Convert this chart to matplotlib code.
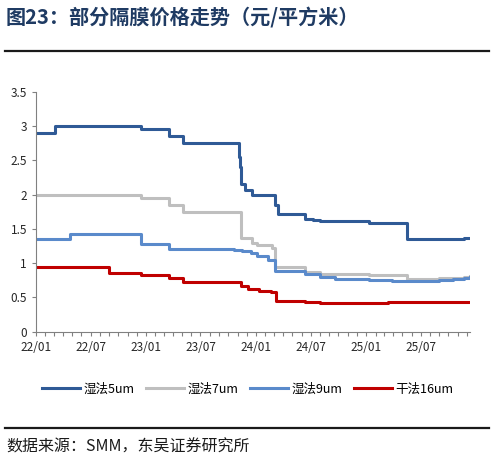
import matplotlib
matplotlib.use("Agg")
import matplotlib.pyplot as plt
import matplotlib.dates as mdates
import pandas as pd
from matplotlib.lines import Line2D

plt.rcParams['font.family'] = ['Noto Sans CJK SC', 'DejaVu Sans']

# 价格数据（元/平方米），按变动日期记录
wet5_dates = ['2022-01-01', '2022-03-04', '2022-12-15', '2023-03-18', '2023-05-04',
              '2023-11-06', '2023-11-09', '2023-11-12', '2023-11-27', '2023-12-18',
              '2024-03-06', '2024-03-13', '2024-06-12', '2024-07-10', '2024-08-01',
              '2024-09-20', '2025-01-10', '2025-05-15', '2025-11-21', '2025-12-01', '2025-12-12']
wet5_vals = [2.90, 3.00, 2.95, 2.85, 2.75,
             2.55, 2.40, 2.15, 2.06, 2.00,
             1.85, 1.72, 1.65, 1.63, 1.62,
             1.61, 1.59, 1.35, 1.36, 1.37, 1.37]

wet7_dates = ['2022-01-01', '2022-12-15', '2023-03-18', '2023-05-04', '2023-11-12',
              '2023-12-18', '2024-01-04', '2024-02-24', '2024-03-06', '2024-06-12',
              '2024-08-01', '2024-09-20', '2025-01-10', '2025-05-15', '2025-09-01',
              '2025-10-15', '2025-11-21', '2025-12-12']
wet7_vals = [2.00, 1.95, 1.85, 1.75, 1.36,
             1.30, 1.27, 1.22, 0.94, 0.87,
             0.845, 0.84, 0.82, 0.77, 0.78,
             0.79, 0.80, 0.81]

wet9_dates = ['2022-01-01', '2022-04-25', '2022-12-15', '2023-03-18', '2023-10-20',
              '2023-11-15', '2023-12-15', '2024-01-04', '2024-02-10', '2024-03-06',
              '2024-06-12', '2024-08-01', '2024-09-20', '2025-01-10', '2025-03-28',
              '2025-05-15', '2025-09-01', '2025-10-15', '2025-11-21', '2025-12-12']
wet9_vals = [1.35, 1.43, 1.28, 1.20, 1.19,
             1.18, 1.15, 1.10, 1.05, 0.89,
             0.835, 0.795, 0.77, 0.75, 0.745,
             0.735, 0.75, 0.77, 0.79, 0.80]

dry16_dates = ['2022-01-01', '2022-09-01', '2022-12-15', '2023-03-18', '2023-05-04',
               '2023-11-12', '2023-12-05', '2024-01-10', '2024-02-20', '2024-03-08',
               '2024-06-12', '2024-08-01', '2025-03-15', '2025-05-15', '2025-12-12']
dry16_vals = [0.95, 0.85, 0.83, 0.78, 0.73,
              0.66, 0.63, 0.60, 0.585, 0.45,
              0.44, 0.42, 0.43, 0.44, 0.44]

series = [
    ('湿法5um', wet5_dates, wet5_vals, '#2F5A96'),
    ('湿法7um', wet7_dates, wet7_vals, '#BFBFBF'),
    ('湿法9um', wet9_dates, wet9_vals, '#5A8ACB'),
    ('干法16um', dry16_dates, dry16_vals, '#C00000'),
]

fig = plt.figure(figsize=(4.95, 4.67), dpi=100)
ax = fig.add_axes([0.0727, 0.2897, 0.877, 0.5139])

for name, d, v, c in series:
    ax.plot(pd.to_datetime(d), v, drawstyle='steps-post', color=c, lw=2.2, label=name)

ax.set_ylim(0, 3.5)
ax.set_yticks([0, 0.5, 1, 1.5, 2, 2.5, 3, 3.5])
ax.set_yticklabels(['0', '0.5', '1', '1.5', '2', '2.5', '3', '3.5'])
ax.set_xlim(pd.Timestamp('2022-01-01'), pd.Timestamp('2025-12-12'))
ax.xaxis.set_major_locator(mdates.MonthLocator(bymonth=[1, 7]))
ax.xaxis.set_major_formatter(mdates.DateFormatter('%y/%m'))
ax.xaxis.set_minor_locator(mdates.MonthLocator())

for s in ['top', 'right']:
    ax.spines[s].set_visible(False)
for s in ['left', 'bottom']:
    ax.spines[s].set_color('#808080')
    ax.spines[s].set_linewidth(0.8)
ax.tick_params(axis='both', which='both', direction='out', length=3, width=0.8,
               color='#808080', labelsize=8.5, labelcolor='#262626')
ax.tick_params(axis='x', pad=4)

ax.legend(loc='center', bbox_to_anchor=(0.5, 0.167), bbox_transform=fig.transFigure,
          ncol=4, frameon=False, fontsize=9, handlelength=3.1, handletextpad=0.25,
          columnspacing=0.9)

# 标题与分隔线
fig.text(0.012, 0.962, '图23：部分隔膜价格走势（元/平方米）', fontsize=14.5, fontweight='bold',
         color='#1F3B63', va='center', ha='left')
fig.add_artist(Line2D([0.01, 0.988], [0.891, 0.891], color='#1a1a1a', lw=1.6))
fig.add_artist(Line2D([0.01, 0.988], [0.0835, 0.0835], color='#1a1a1a', lw=1.6))
fig.text(0.012, 0.043, '数据来源：SMM，东吴证券研究所', fontsize=11.5, color='#1a1a1a',
         va='center', ha='left')

fig.savefig('out.png', dpi=100)
